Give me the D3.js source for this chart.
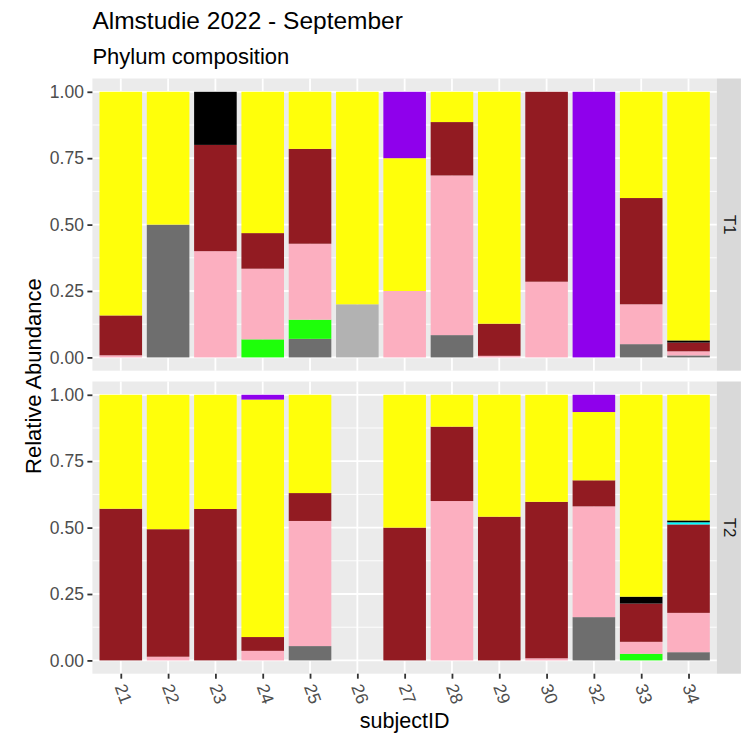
<!DOCTYPE html>
<html>
<head>
<meta charset="utf-8">
<script src="https://cdn.jsdelivr.net/npm/d3@7"></script>
<style>
  html, body { margin: 0; padding: 0; background: #ffffff; }
  svg { display: block; font-family: "Liberation Sans", Arial, Helvetica, sans-serif; }
</style>
</head>
<body>
<svg id="chart" width="745" height="738"></svg>
<script>
// Subjects on the x axis
const subjects = ["21", "22", "23", "24", "25", "26", "27", "28", "29", "30", "32", "33", "34"];
// Sampling time points (facet rows)
const timepoints = ["T1", "T2"];
// Phyla in stacking order, bottom to top
const phyla = ["Phylum A", "Phylum B", "Phylum C", "Phylum D", "Phylum E", "Phylum F", "Phylum G", "Phylum H", "Phylum I"];
const phylumColors = ["#6E6E6E", "#B2B2B2", "#1EFF0A", "#FCAFC0", "#921B22", "#00FFFF", "#000000", "#FFFF0A", "#8F00EC"];
// Y axis ticks
const yTicks = [0, 0.25, 0.5, 0.75, 1];
const yTickLabels = ["0.00", "0.25", "0.50", "0.75", "1.00"];

// Relative abundance per phylum, one value per subject (T1)
const t1PhylumA = [0, 0.50, 0, 0, 0.070, 0, 0, 0.084, 0, 0, 0, 0.050, 0.0075];
const t1PhylumB = [0, 0, 0, 0, 0, 0.20, 0, 0, 0, 0, 0, 0, 0];
const t1PhylumC = [0, 0, 0, 0.068, 0.072, 0, 0, 0, 0, 0, 0, 0, 0];
const t1PhylumD = [0.008, 0, 0.40, 0.266, 0.286, 0, 0.25, 0.601, 0.006, 0.285, 0, 0.150, 0.0155];
const t1PhylumE = [0.150, 0, 0.40, 0.134, 0.357, 0, 0, 0.201, 0.121, 0.715, 0, 0.40, 0.033];
const t1PhylumF = [0, 0, 0, 0, 0, 0, 0, 0, 0, 0, 0, 0, 0];
const t1PhylumG = [0, 0, 0.20, 0, 0, 0, 0, 0, 0, 0, 0, 0, 0.008];
const t1PhylumH = [0.842, 0.50, 0, 0.532, 0.215, 0.80, 0.50, 0.114, 0.873, 0, 0, 0.40, 0.936];
const t1PhylumI = [0, 0, 0, 0, 0, 0, 0.25, 0, 0, 0, 1.0, 0, 0];

// Relative abundance per phylum, one value per subject (T2; subject 26 has no sample)
const t2PhylumA = [0, 0, 0, 0, 0.054, 0, 0, 0, 0, 0, 0.163, 0, 0.031];
const t2PhylumB = [0, 0, 0, 0, 0, 0, 0, 0, 0, 0, 0, 0, 0];
const t2PhylumC = [0, 0, 0, 0, 0, 0, 0, 0, 0, 0, 0, 0.025, 0];
const t2PhylumD = [0, 0.014, 0, 0.036, 0.471, 0, 0, 0.60, 0, 0.008, 0.417, 0.045, 0.148];
const t2PhylumE = [0.571, 0.480, 0.570, 0.052, 0.105, 0, 0.50, 0.28, 0.541, 0.589, 0.098, 0.144, 0.333];
const t2PhylumF = [0, 0, 0, 0, 0, 0, 0, 0, 0, 0, 0, 0, 0.008];
const t2PhylumG = [0, 0, 0, 0, 0, 0, 0, 0, 0, 0, 0, 0.026, 0.007];
const t2PhylumH = [0.429, 0.506, 0.430, 0.894, 0.370, 0, 0.50, 0.12, 0.459, 0.403, 0.257, 0.760, 0.473];
const t2PhylumI = [0, 0, 0, 0.018, 0, 0, 0, 0, 0, 0, 0.065, 0, 0];

const seriesByTime = {
  T1: [t1PhylumA, t1PhylumB, t1PhylumC, t1PhylumD, t1PhylumE, t1PhylumF, t1PhylumG, t1PhylumH, t1PhylumI],
  T2: [t2PhylumA, t2PhylumB, t2PhylumC, t2PhylumD, t2PhylumE, t2PhylumF, t2PhylumG, t2PhylumH, t2PhylumI]
};

// ---- layout ----
const panelLeft = 92.4, panelRight = 716.9;
const panels = [
  { key: "T1", top: 78.5, bottom: 370.7 },
  { key: "T2", top: 381.5, bottom: 673.7 }
];
const stripWidth = 24;

const svg = d3.select("#chart");

const x = d3.scalePoint().domain(subjects).range([panelLeft, panelRight]).padding(0.6);
const barWidth = x.step() * 0.9;
const colorScale = d3.scaleOrdinal().domain(phyla).range(phylumColors);

panels.forEach(p => {
  const y = d3.scaleLinear().domain([-0.05, 1.05]).range([p.bottom, p.top]);
  const g = svg.append("g");

  // panel background
  g.append("rect")
    .attr("x", panelLeft).attr("y", p.top)
    .attr("width", panelRight - panelLeft).attr("height", p.bottom - p.top)
    .attr("fill", "#EBEBEB");

  // minor horizontal grid
  const minor = d3.range(0, 4).map(i => yTicks[i] + 0.125);
  g.selectAll(".minor").data(minor).enter().append("line")
    .attr("x1", panelLeft).attr("x2", panelRight)
    .attr("y1", d => y(d)).attr("y2", d => y(d))
    .attr("stroke", "#FFFFFF").attr("stroke-width", 0.9);

  // major horizontal grid
  g.selectAll(".majorY").data(yTicks).enter().append("line")
    .attr("x1", panelLeft).attr("x2", panelRight)
    .attr("y1", d => y(d)).attr("y2", d => y(d))
    .attr("stroke", "#FFFFFF").attr("stroke-width", 1.8);

  // major vertical grid
  g.selectAll(".majorX").data(subjects).enter().append("line")
    .attr("x1", d => x(d)).attr("x2", d => x(d))
    .attr("y1", p.top).attr("y2", p.bottom)
    .attr("stroke", "#FFFFFF").attr("stroke-width", 1.8);

  // stacked bars
  const rows = subjects.map((s, i) => {
    const row = { subject: s };
    phyla.forEach((ph, k) => { row[ph] = seriesByTime[p.key][k][i]; });
    return row;
  });
  const stacked = d3.stack().keys(phyla)(rows);
  const layers = g.selectAll(".layer").data(stacked).enter().append("g")
    .attr("fill", d => colorScale(d.key));
  layers.selectAll("rect")
    .data(d => d.filter(seg => seg[1] - seg[0] > 0))
    .enter().append("rect")
    .attr("x", d => x(d.data.subject) - barWidth / 2)
    .attr("width", barWidth)
    .attr("y", d => y(d[1]))
    .attr("height", d => y(d[0]) - y(d[1]));

  // y axis ticks and labels
  const yAxis = d3.axisLeft(y).tickValues(yTicks)
    .tickFormat((d, i) => yTickLabels[i]).tickSize(5).tickPadding(3.5);
  const ya = svg.append("g").attr("transform", `translate(${panelLeft},0)`).call(yAxis);
  ya.select(".domain").remove();
  ya.selectAll(".tick line").attr("stroke", "#333333").attr("stroke-width", 1.8);
  ya.selectAll(".tick text").attr("fill", "#4D4D4D")
    .style("font-size", "17.5px").style("font-family", "'Liberation Sans', Arial, sans-serif");

  // right strip
  svg.append("rect")
    .attr("x", panelRight).attr("y", p.top)
    .attr("width", stripWidth).attr("height", p.bottom - p.top)
    .attr("fill", "#D9D9D9");
  svg.append("text")
    .attr("transform", `translate(${panelRight + stripWidth / 2 + 1.5},${(p.top + p.bottom) / 2}) rotate(90)`)
    .attr("text-anchor", "middle").attr("dy", "0.35em")
    .attr("fill", "#1A1A1A").style("font-size", "17px")
    .text(p.key);
});

// x axis on the lower panel
const bottomPanel = panels[1];
const xAxis = d3.axisBottom(x).tickSize(5).tickPadding(4);
const xa = svg.append("g").attr("transform", `translate(0,${bottomPanel.bottom})`).call(xAxis);
xa.select(".domain").remove();
xa.selectAll(".tick line").attr("stroke", "#333333").attr("stroke-width", 1.8);
xa.selectAll(".tick text")
  .attr("fill", "#4D4D4D").style("font-size", "17.5px")
  .style("font-family", "'Liberation Sans', Arial, sans-serif")
  .attr("text-anchor", "start")
  .attr("y", 0).attr("dy", "0.35em")
  .attr("transform", "translate(-1,11) rotate(70)");

// titles
svg.append("text").attr("x", panelLeft).attr("y", 29)
  .attr("fill", "#000000").style("font-size", "24.5px")
  .text("Almstudie 2022 - September");
svg.append("text").attr("x", panelLeft).attr("y", 64)
  .attr("fill", "#000000").style("font-size", "22px")
  .text("Phylum composition");

// axis titles
svg.append("text")
  .attr("x", (panelLeft + panelRight) / 2).attr("y", 728)
  .attr("text-anchor", "middle").attr("fill", "#000000").style("font-size", "21.5px")
  .text("subjectID");
svg.append("text")
  .attr("transform", `translate(41,${(panels[0].top + panels[1].bottom) / 2}) rotate(-90)`)
  .attr("text-anchor", "middle").attr("fill", "#000000").style("font-size", "22px")
  .text("Relative Abundance");
</script>
</body>
</html>
